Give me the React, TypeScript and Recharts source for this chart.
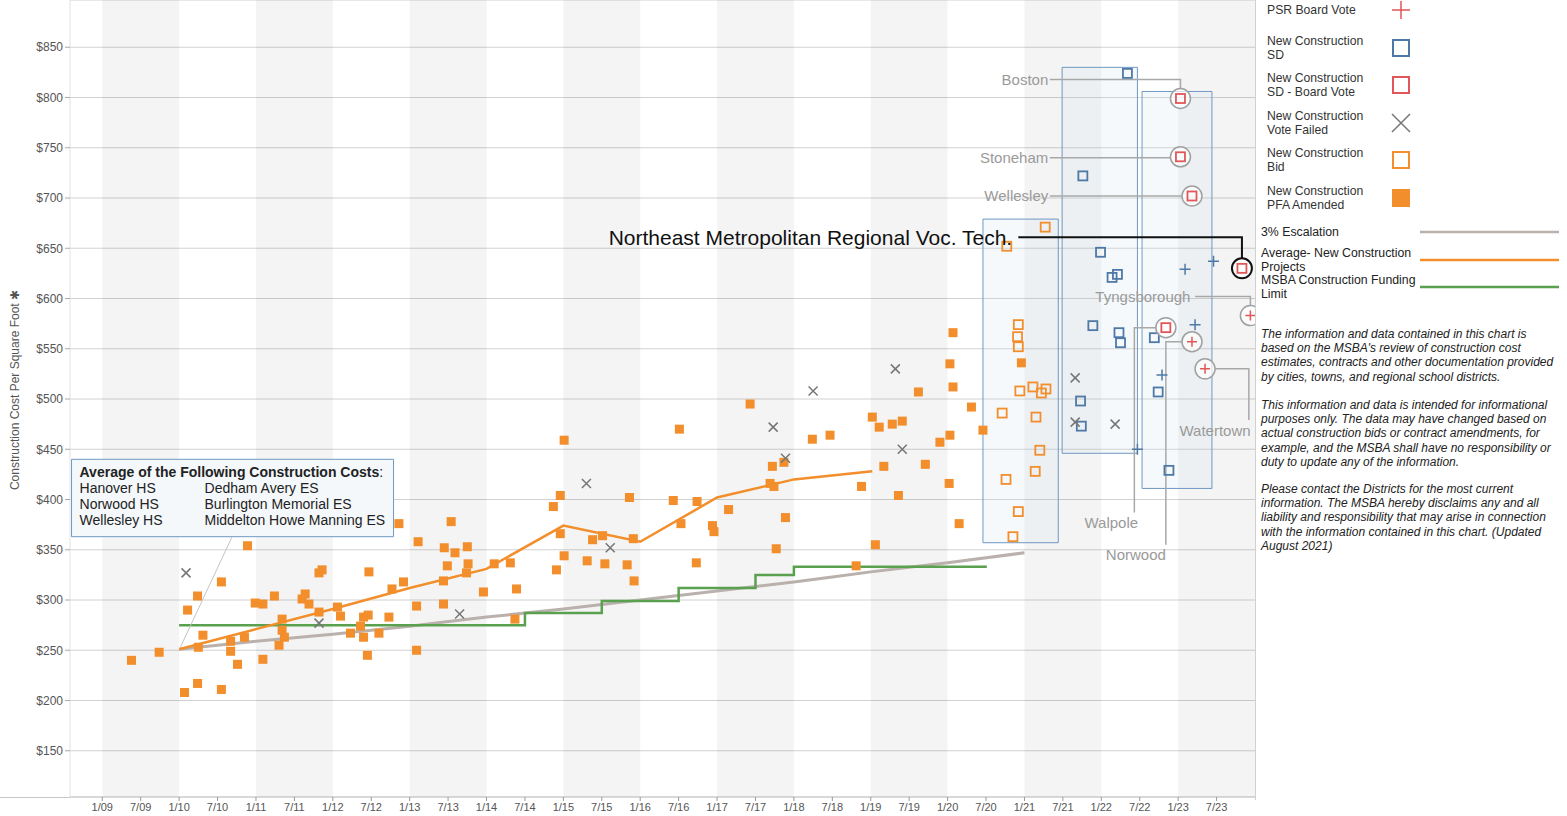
import React from "react";
import { ComposedChart, XAxis, YAxis, CartesianGrid, Line, Scatter, ReferenceArea } from "recharts";

const W = 1567;
const H = 816;
const FONT = "'Liberation Sans', Arial, sans-serif";

const ORANGE = "#f28e2b";
const BLUE = "#4e79a7";
const RED = "#e15759";
const XGRAY = "#767676";
const GREEN = "#59a14f";
const TAN = "#bab0ac";
const LABEL_GRAY = "#9a9a9a";

const X_MIN = 2008.58;
const X_MAX = 2024.0;
const Y_MIN = 104;
const Y_MAX = 897;

const xTicks = [2009, 2009.5, 2010, 2010.5, 2011, 2011.5, 2012, 2012.5, 2013, 2013.5, 2014, 2014.5, 2015, 2015.5, 2016, 2016.5, 2017, 2017.5, 2018, 2018.5, 2019, 2019.5, 2020, 2020.5, 2021, 2021.5, 2022, 2022.5, 2023, 2023.5];
const yTicks = [150, 200, 250, 300, 350, 400, 450, 500, 550, 600, 650, 700, 750, 800, 850];
const bandYears = [2009, 2011, 2013, 2015, 2017, 2019, 2021, 2023];

// [date as decimal year, $ per sq ft]
const pfaAmended = [
  [2009.38, 240], [2009.74, 248], [2010.07, 208], [2010.24, 217], [2010.11, 290], [2010.24, 304],
  [2010.31, 265], [2010.25, 253], [2010.55, 318], [2010.55, 211], [2010.67, 259], [2010.67, 249],
  [2010.76, 236], [2010.85, 263], [2010.89, 354], [2010.99, 297], [2011.09, 296], [2011.09, 241],
  [2011.24, 304], [2011.30, 255], [2011.34, 281], [2011.34, 270], [2011.37, 263], [2011.60, 301],
  [2011.64, 306], [2011.69, 296], [2011.82, 327], [2011.86, 330], [2011.82, 288], [2012.06, 293],
  [2012.10, 284], [2012.23, 267], [2012.36, 274], [2012.40, 283], [2012.46, 285], [2012.40, 263],
  [2012.45, 245], [2012.47, 328], [2012.60, 267], [2012.73, 283], [2012.77, 311], [2012.92, 318],
  [2012.86, 376], [2013.11, 358], [2013.09, 294], [2013.09, 250], [2013.54, 378], [2013.45, 352],
  [2013.59, 347], [2013.75, 353], [2013.49, 334], [2013.76, 336], [2013.44, 319], [2013.74, 327],
  [2013.44, 296], [2013.96, 308], [2014.10, 336], [2014.31, 337], [2014.39, 311], [2014.37, 281],
  [2015.01, 459], [2014.96, 404], [2014.87, 393], [2014.96, 366], [2015.01, 344], [2014.91, 330],
  [2015.38, 360], [2015.51, 364], [2015.31, 339], [2015.54, 336], [2015.83, 335], [2015.91, 361],
  [2015.92, 319], [2015.86, 402], [2016.43, 399], [2016.51, 470], [2016.74, 398], [2016.53, 376],
  [2016.94, 374], [2016.96, 368], [2017.15, 390], [2016.73, 337], [2017.43, 495], [2017.72, 433],
  [2017.87, 437], [2017.69, 416], [2017.74, 413], [2017.89, 382], [2017.77, 351], [2018.24, 460],
  [2018.47, 464], [2018.88, 413], [2019.06, 355], [2018.81, 334], [2019.02, 482], [2019.11, 472],
  [2019.28, 475], [2019.41, 478], [2019.17, 433], [2019.36, 404], [2019.62, 507], [2019.71, 435],
  [2019.90, 457], [2020.03, 464], [2020.02, 416], [2020.07, 566], [2020.03, 535], [2020.07, 512],
  [2020.31, 492], [2020.15, 376], [2020.46, 469], [2020.96, 536],
];

const bidPoints = [
  [2021.27, 671], [2020.77, 652], [2020.92, 574], [2020.91, 562], [2020.92, 552], [2020.94, 508],
  [2021.11, 512], [2021.22, 506], [2021.28, 510], [2020.71, 486], [2021.15, 482], [2021.20, 449],
  [2021.14, 428], [2020.76, 420], [2020.92, 388], [2020.85, 363],
];

const sdPoints = [
  [2022.34, 824], [2021.76, 722], [2021.99, 646], [2022.14, 621], [2022.21, 624], [2021.89, 573],
  [2022.23, 566], [2022.25, 556], [2022.69, 561], [2022.74, 507], [2021.73, 498], [2021.74, 473],
  [2022.88, 429],
];

const psrBluePoints = [
  [2023.09, 629], [2023.46, 637], [2023.22, 574], [2022.79, 524], [2022.47, 450],
];

const voteFailed = [
  [2010.09, 327], [2011.82, 277], [2013.65, 286], [2015.30, 416], [2015.61, 352], [2017.73, 472],
  [2017.89, 441], [2018.25, 508], [2019.32, 530], [2019.41, 450], [2021.66, 521], [2021.66, 477],
  [2022.18, 475],
];

const sdBoardVote = [
  { name: "Boston", x: 2023.03, y: 799 },
  { name: "Stoneham", x: 2023.03, y: 741 },
  { name: "Wellesley", x: 2023.18, y: 702 },
  { name: "Northeast Metropolitan Regional Voc. Tech.", x: 2023.83, y: 630, dark: true },
  { name: "Walpole", x: 2022.84, y: 571 },
];

const psrBoardVote = [
  { name: "Tyngsborough", x: 2023.94, y: 583 },
  { name: "Norwood", x: 2023.18, y: 557 },
  { name: "Watertown", x: 2023.35, y: 530 },
];

const escalationYears = [2010, 2011, 2012, 2013, 2014, 2015, 2016, 2017, 2018, 2019, 2020, 2021];
const escalationValues = [251, 259, 266, 274, 283, 291, 300, 309, 318, 328, 337, 347];

const averageDates = [2010, 2011, 2012, 2013, 2014, 2015, 2016, 2017, 2018, 2019.02];
const averageValues = [251, 271, 291, 312, 331, 374, 358, 402, 420, 428];

const limitDates = [2010, 2014.5, 2015.5, 2016.5, 2017.5, 2018, 2020.51];
const limitValues = [275, 287, 299, 312, 325, 333, 333];

const calloutLabels = [
  { text: "Boston", x: 2021.31, y: 818, anchor: "end" },
  { text: "Stoneham", x: 2021.31, y: 740, anchor: "end" },
  { text: "Wellesley", x: 2021.31, y: 702, anchor: "end" },
  { text: "Northeast Metropolitan Regional Voc. Tech.", x: 2020.84, y: 661, anchor: "end", big: true },
  { text: "Tyngsborough", x: 2023.16, y: 602, anchor: "end" },
  { text: "Walpole", x: 2022.13, y: 377, anchor: "middle" },
  { text: "Norwood", x: 2022.45, y: 345, anchor: "middle" },
  { text: "Watertown", x: 2023.48, y: 469, anchor: "middle" },
];

const leaderPaths = [
  { id: "boston", pts: [[2021.33, 818], [2023.03, 818], [2023.03, 809]] },
  { id: "stoneham", pts: [[2021.33, 740], [2022.9, 740]] },
  { id: "wellesley", pts: [[2021.33, 702], [2023.05, 702]] },
  { id: "nemt", pts: [[2020.92, 661], [2023.83, 661], [2023.83, 640]], dark: true },
  { id: "tyng", pts: [[2023.22, 602], [2023.94, 602], [2023.94, 593]] },
  { id: "walpole", pts: [[2022.43, 387], [2022.43, 571], [2022.71, 571]] },
  { id: "norwood", pts: [[2022.84, 355], [2022.84, 557], [2023.05, 557]] },
  { id: "watertown", pts: [[2023.48, 530], [2023.92, 530], [2023.92, 479]] },
  { id: "avgbox", pts: [[2010.69, 363], [2010.01, 252]], thin: true },
];

const projectBoxes = [
  { x1: 2020.46, x2: 2021.44, y1: 357, y2: 679 },
  { x1: 2021.49, x2: 2022.47, y1: 446, y2: 830 },
  { x1: 2022.53, x2: 2023.44, y1: 411, y2: 806 },
];

const avgBoxTitle = "Average of the Following Construction Costs";
const avgBoxLeft = ["Hanover HS", "Norwood HS", "Wellesley HS"];
const avgBoxRight = ["Dedham Avery ES", "Burlington Memorial ES", "Middelton Howe Manning ES"];

const legendItems = [
  { lines: ["PSR Board Vote"], y: 10, sym: "plusRed" },
  { lines: ["New Construction", "SD"], y: 41, sym: "sqBlue" },
  { lines: ["New Construction", "SD - Board Vote"], y: 78, sym: "sqRed" },
  { lines: ["New Construction", "Vote Failed"], y: 116, sym: "x" },
  { lines: ["New Construction", "Bid"], y: 153, sym: "sqOrange" },
  { lines: ["New Construction", "PFA Amended"], y: 191, sym: "fillOrange" },
];
const legendLines = [
  { lines: ["3% Escalation"], y: 232, color: TAN },
  { lines: ["Average- New Construction", "Projects"], y: 253, color: ORANGE },
  { lines: ["MSBA Construction Funding", "Limit"], y: 280, color: GREEN },
];

const notes = [
  ["The information and data contained in this chart is", "based on the MSBA's review of construction cost", "estimates, contracts and other documentation provided", "by cities, towns, and regional school districts."],
  ["This information and data is intended for informational", "purposes only. The data may have changed based on", "actual construction bids or contract amendments, for", "example, and the MSBA shall have no responsibility or", "duty to update any of the information."],
  ["Please contact the Districts for the most current", "information. The MSBA hereby disclaims any and all", "liability and responsibility that may arise in connection", "with the information contained in this chart. (Updated", "August 2021)"],
];

const toXY = (arr: number[][]) => arr.map(([x, y]) => ({ x, y }));
const zip = (xs: number[], ys: number[]) => xs.map((x, i) => ({ x, y: ys[i] }));

const fmtX = (t: number) => {
  const yr = Math.floor(t + 1e-6);
  const m = t - yr > 0.25 ? "7/" : "1/";
  return m + String(yr % 100).padStart(2, "0");
};

const FilledSquare = (p: any) => <rect x={p.cx - 4.5} y={p.cy - 4.5} width={9} height={9} fill={ORANGE} />;
const HollowSquare = (color: string) => (p: any) => (
  <rect x={p.cx - 4.5} y={p.cy - 4.5} width={9} height={9} fill="none" stroke={color} strokeWidth={1.8} />
);
const Cross = (p: any) => (
  <path d={`M${p.cx - 4.5},${p.cy - 4.5}L${p.cx + 4.5},${p.cy + 4.5}M${p.cx - 4.5},${p.cy + 4.5}L${p.cx + 4.5},${p.cy - 4.5}`} stroke={XGRAY} strokeWidth={1.5} />
);
const Plus = (color: string) => (p: any) => (
  <path d={`M${p.cx - 5.5},${p.cy}L${p.cx + 5.5},${p.cy}M${p.cx},${p.cy - 5.5}L${p.cx},${p.cy + 5.5}`} stroke={color} strokeWidth={1.5} />
);
const CircledSquare = (p: any) => (
  <g>
    <circle cx={p.cx} cy={p.cy} r={10} fill="rgba(255,255,255,0.7)" stroke={p.payload.dark ? "#111" : "#a0a0a0"} strokeWidth={p.payload.dark ? 2 : 1.5} />
    <rect x={p.cx - 4.5} y={p.cy - 4.5} width={9} height={9} fill="none" stroke={RED} strokeWidth={1.8} />
  </g>
);
const CircledPlus = (p: any) => (
  <g>
    <circle cx={p.cx} cy={p.cy} r={10} fill="rgba(255,255,255,0.7)" stroke="#a0a0a0" strokeWidth={1.5} />
    <path d={`M${p.cx - 5},${p.cy}L${p.cx + 5},${p.cy}M${p.cx},${p.cy - 5}L${p.cx},${p.cy + 5}`} stroke={RED} strokeWidth={1.5} />
  </g>
);
const CalloutText = (p: any) => (
  <text x={p.cx} y={p.cy} textAnchor={p.payload.anchor} dominantBaseline="central" fontFamily={FONT}
    fontSize={p.payload.big ? 21 : 15} fill={p.payload.big ? "#111" : LABEL_GRAY}>
    {p.payload.text}
  </text>
);
const AvgBoxText = (p: any) => (
  <g fontFamily={FONT} fontSize={14} fill="#222">
    <text x={p.cx + 8} y={p.cy + 13} dominantBaseline="central" fontWeight="bold">{avgBoxTitle}<tspan fontWeight="normal">:</tspan></text>
    {avgBoxLeft.map((s, i) => <text key={s} x={p.cx + 8} y={p.cy + 29 + i * 16} dominantBaseline="central">{s}</text>)}
    {avgBoxRight.map((s, i) => <text key={s} x={p.cx + 133} y={p.cy + 29 + i * 16} dominantBaseline="central">{s}</text>)}
  </g>
);

function LegendSymbol({ sym, x, y }: { sym: string; x: number; y: number }) {
  if (sym === "plusRed") return <path d={`M${x - 9},${y}L${x + 9},${y}M${x},${y - 9}L${x},${y + 9}`} stroke={RED} strokeWidth={1.5} />;
  if (sym === "x") return <path d={`M${x - 9},${y - 9}L${x + 9},${y + 9}M${x - 9},${y + 9}L${x + 9},${y - 9}`} stroke={XGRAY} strokeWidth={1.5} />;
  if (sym === "fillOrange") return <rect x={x - 9} y={y - 9} width={18} height={18} fill={ORANGE} />;
  const c = sym === "sqBlue" ? BLUE : sym === "sqRed" ? RED : ORANGE;
  return <rect x={x - 8} y={y - 8} width={16} height={16} fill="none" stroke={c} strokeWidth={2} />;
}

export default function App() {
  return (
    <div style={{ position: "absolute", left: 0, top: 0, width: W, height: H, background: "#fff", fontFamily: FONT }}>
      <ComposedChart width={W} height={H} margin={{ top: 0, right: 312, bottom: 0, left: 0 }}>
        {bandYears.map((y) => (
          <ReferenceArea key={y} x1={y} x2={Math.min(y + 1, X_MAX)} fill="#000" fillOpacity={0.045} stroke="none" />
        ))}
        <CartesianGrid vertical={false} stroke="#d2d2d2" />
        <XAxis type="number" dataKey="x" domain={[X_MIN, X_MAX]} ticks={xTicks} tickFormatter={fmtX}
          allowDataOverflow height={19} interval={0} tickSize={4} tickMargin={2}
          tick={{ fontSize: 11, fill: "#555", fontFamily: FONT }} stroke="#c8c8c8" tickLine={{ stroke: "#999" }} />
        <YAxis type="number" dataKey="y" domain={[Y_MIN, Y_MAX]} ticks={yTicks} tickFormatter={(v: number) => `$${v}`}
          allowDataOverflow width={70} interval={0} tickSize={5} tickMargin={2}
          tick={{ fontSize: 12, fill: "#555", fontFamily: FONT }} axisLine={{ stroke: "#e2e2e2" }} tickLine={{ stroke: "#aaa" }} />

        {projectBoxes.map((b, i) => (
          <ReferenceArea key={"box" + i} x1={b.x1} x2={b.x2} y1={b.y1} y2={b.y2}
            fill="#c9dbea" fillOpacity={0.18} stroke="#6f98c4" strokeWidth={1} />
        ))}
        <ReferenceArea x1={2008.6} x2={2012.79} y1={363} y2={440} fill="#f4f8fb" fillOpacity={1} stroke="#6f98c4" strokeWidth={1} />

        <Line data={zip(escalationYears, escalationValues)} dataKey="y" type="monotone" stroke={TAN} strokeWidth={3}
          dot={false} activeDot={false} isAnimationActive={false} />
        <Line data={zip(limitDates, limitValues)} dataKey="y" type="stepAfter" stroke={GREEN} strokeWidth={2.5}
          dot={false} activeDot={false} isAnimationActive={false} />
        <Line data={zip(averageDates, averageValues)} dataKey="y" type="linear" stroke={ORANGE} strokeWidth={2.5}
          dot={false} activeDot={false} isAnimationActive={false} />

        {leaderPaths.map((l) => (
          <Line key={l.id} data={toXY(l.pts)} dataKey="y" type="linear"
            stroke={l.dark ? "#111" : l.thin ? "#c4c4c4" : "#a8a8a8"} strokeWidth={l.dark ? 2 : l.thin ? 1 : 1.5}
            dot={false} activeDot={false} isAnimationActive={false} />
        ))}

        <Scatter data={toXY(pfaAmended)} shape={FilledSquare} isAnimationActive={false} />
        <Scatter data={toXY(bidPoints)} shape={HollowSquare(ORANGE)} isAnimationActive={false} />
        <Scatter data={toXY(sdPoints)} shape={HollowSquare(BLUE)} isAnimationActive={false} />
        <Scatter data={toXY(voteFailed)} shape={Cross} isAnimationActive={false} />
        <Scatter data={toXY(psrBluePoints)} shape={Plus(BLUE)} isAnimationActive={false} />
        <Scatter data={sdBoardVote} shape={CircledSquare} isAnimationActive={false} />
        <Scatter data={psrBoardVote} shape={CircledPlus} isAnimationActive={false} />
        <Scatter data={calloutLabels} shape={CalloutText} isAnimationActive={false} />
        <Scatter data={[{ x: 2008.6, y: 440 }]} shape={AvgBoxText} isAnimationActive={false} />
      </ComposedChart>

      <svg width={W} height={H} style={{ position: "absolute", left: 0, top: 0, pointerEvents: "none" }} fontFamily={FONT}>
        <line x1={0} y1={797.5} x2={70} y2={797.5} stroke="#c8c8c8" />
        <line x1={1255.5} y1={0} x2={1255.5} y2={800} stroke="#d0d0d0" />
        <text transform="translate(19,390) rotate(-90)" textAnchor="middle" fontSize={12} fill="#555">
          Construction Cost Per Square Foot ✱
        </text>
        {legendItems.map((it) => (
          <g key={it.lines.join()}>
            {it.lines.map((s, i) => (
              <text key={s} x={1267} y={it.y + i * 14} dominantBaseline="central" fontSize={12.2} fill="#333">{s}</text>
            ))}
            <LegendSymbol sym={it.sym} x={1401} y={it.y + (it.lines.length - 1) * 7} />
          </g>
        ))}
        {legendLines.map((it) => (
          <g key={it.lines.join()}>
            {it.lines.map((s, i) => (
              <text key={s} x={1261} y={it.y + i * 14} dominantBaseline="central" fontSize={12.3} fill="#222">{s}</text>
            ))}
            <line x1={1420} x2={1559} y1={it.y + (it.lines.length - 1) * 7} y2={it.y + (it.lines.length - 1) * 7} stroke={it.color} strokeWidth={2.5} />
          </g>
        ))}
        {notes.map((para, pi) => (
          <g key={pi}>
            {para.map((s, i) => (
              <text key={s} x={1261} y={[334, 405, 489][pi] + i * 14.2} dominantBaseline="central" fontSize={12} fontStyle="italic" fill="#222">{s}</text>
            ))}
          </g>
        ))}
      </svg>
    </div>
  );
}
